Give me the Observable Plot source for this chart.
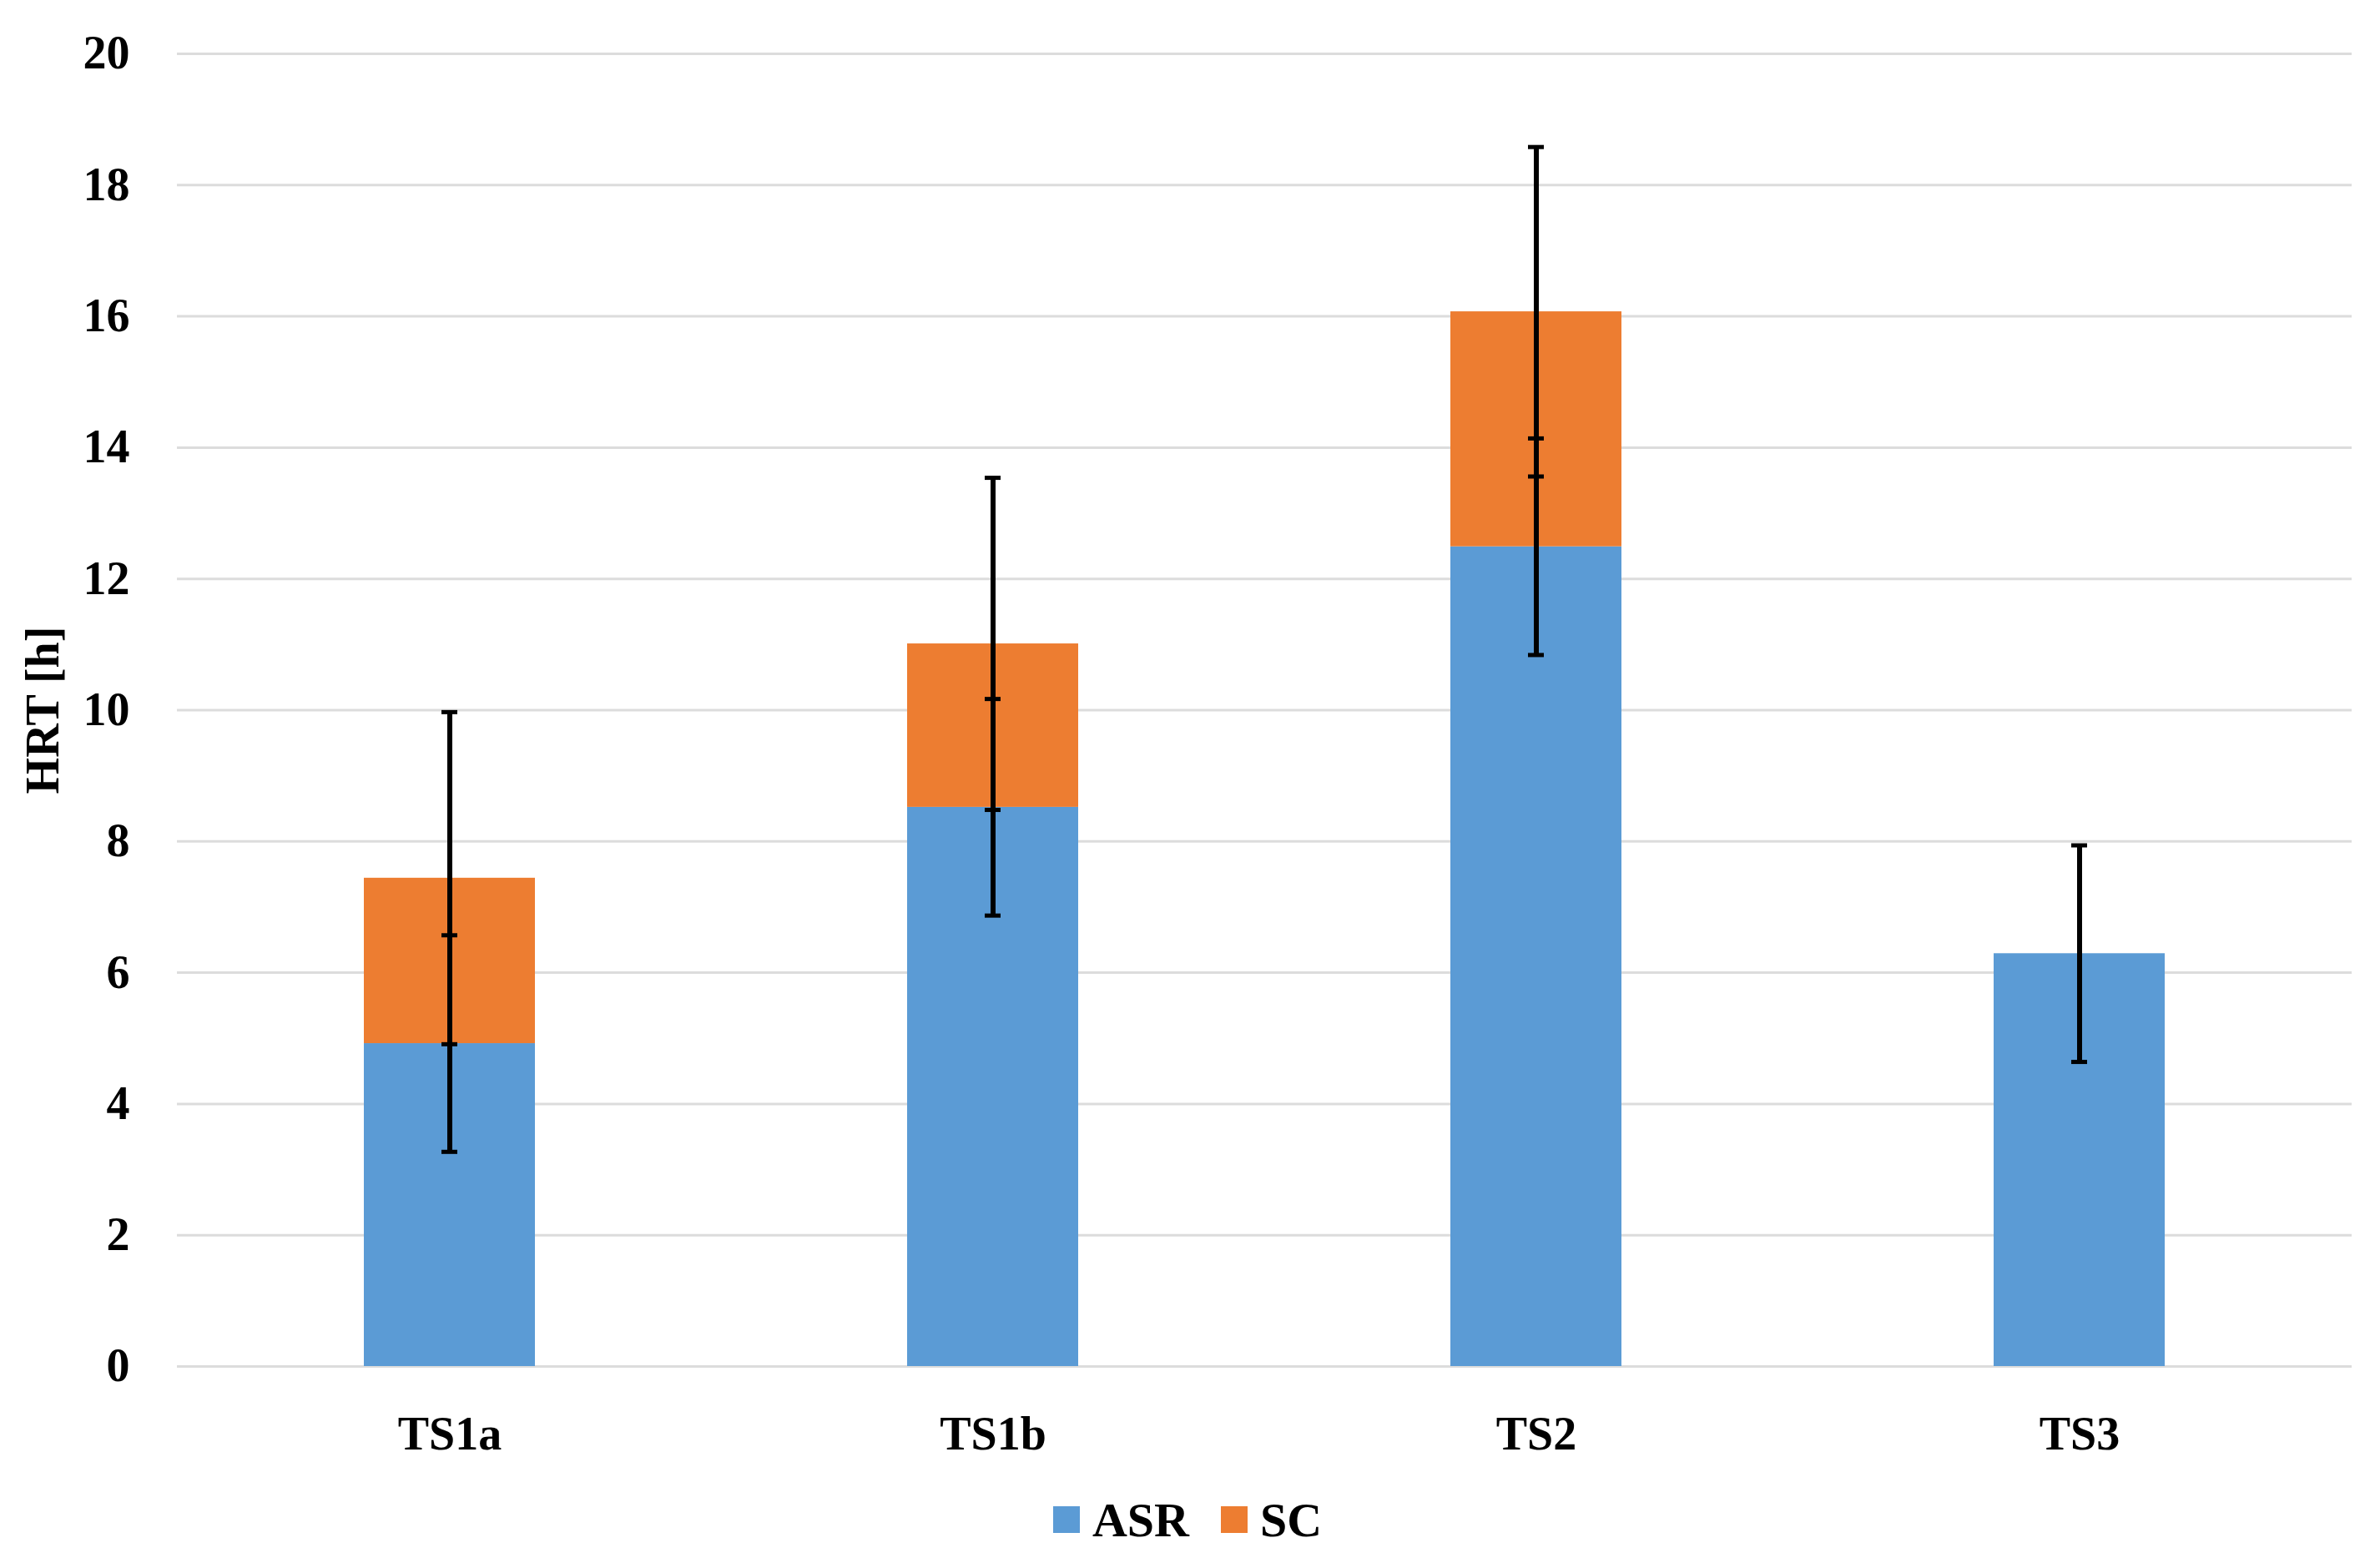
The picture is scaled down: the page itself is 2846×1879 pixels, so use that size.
<!DOCTYPE html>
<html>
<head>
<meta charset="utf-8">
<script src="https://cdn.jsdelivr.net/npm/d3@7"></script>
<script src="https://cdn.jsdelivr.net/npm/@observablehq/plot@0.6"></script>
<style>
  html, body { margin: 0; padding: 0; background: #ffffff; }
  #chart { width: 2846px; }
  .legend { width: 2846px; height: 84px; display: flex; justify-content: center; align-items: center;
    font-family: "Liberation Serif", "Times New Roman", serif; font-weight: bold; font-size: 58px; color: #000; }
  .legend .item { display: flex; align-items: center; margin: 0 19px; }
  .legend .sw { width: 32px; height: 32px; margin-right: 15px; }
</style>
</head>
<body>
<div id="chart"></div>
<script>
const categories = ["TS1a", "TS1b", "TS2", "TS3"];
const series = ["ASR", "SC"];
const asrValues = [4.92, 8.52, 12.49, 6.29];
const scValues = [2.52, 2.49, 3.58, 0];
const asrErrors = [1.65, 1.65, 1.65, 1.65];
const scErrors = [2.53, 2.53, 2.51, null];
const yTicks = [0, 2, 4, 6, 8, 10, 12, 14, 16, 18, 20];
const colors = ["#5B9BD5", "#ED7D31"];

const rows = [];
categories.forEach((c, i) => {
  rows.push({cat: c, series: "ASR", value: asrValues[i]});
  rows.push({cat: c, series: "SC", value: scValues[i]});
});

const errs = [];
categories.forEach((c, i) => {
  errs.push({cat: c, center: asrValues[i], e: asrErrors[i]});
  if (scErrors[i] != null) errs.push({cat: c, center: asrValues[i] + scValues[i], e: scErrors[i]});
});
const caps = [];
errs.forEach(d => { caps.push({cat: d.cat, y: d.center - d.e}); caps.push({cat: d.cat, y: d.center + d.e}); });

const font = "'Liberation Serif', 'Times New Roman', serif";

const chart = Plot.plot({
  width: 2846,
  height: 1779,
  marginLeft: 212,
  marginRight: 28,
  marginTop: 64,
  marginBottom: 142,
  style: {fontFamily: font, fontSize: "56px", fontWeight: "bold", color: "#000", background: "#fff"},
  x: {domain: categories, paddingInner: 0.685, paddingOuter: 0.3425, label: null},
  y: {domain: [0, 20], label: null},
  color: {domain: series, range: colors},
  marks: [
    Plot.gridY(yTicks, {stroke: "#dcdcdc", strokeOpacity: 1, strokeWidth: 3}),
    Plot.barY(rows, {x: "cat", y: "value", fill: "series"}),
    Plot.ruleX(errs, {x: "cat", y1: d => d.center - d.e, y2: d => d.center + d.e, stroke: "#000", strokeWidth: 6}),
    Plot.tickY(caps, {x: "cat", y: "y", stroke: "#000", strokeWidth: 5, insetLeft: 93, insetRight: 93}),
    Plot.axisX({tickSize: 0, tickPadding: 60, fontSize: 56, label: null}),
    Plot.axisY({ticks: yTicks, tickSize: 0, tickPadding: 57, fontSize: 56, label: null}),
    Plot.text(["HRT [h]"], {frameAnchor: "left", dx: -160, rotate: -90, fontSize: 56, fontWeight: "bold", fill: "#000", textAnchor: "middle", lineAnchor: "middle"})
  ]
});
document.getElementById("chart").appendChild(chart);

const legend = document.createElement("div");
legend.className = "legend";
series.forEach((s, i) => {
  const item = document.createElement("div");
  item.className = "item";
  const sw = document.createElement("span");
  sw.className = "sw";
  sw.style.background = colors[i];
  const t = document.createElement("span");
  t.textContent = s;
  item.appendChild(sw);
  item.appendChild(t);
  legend.appendChild(item);
});
document.body.appendChild(legend);
</script>
</body>
</html>
